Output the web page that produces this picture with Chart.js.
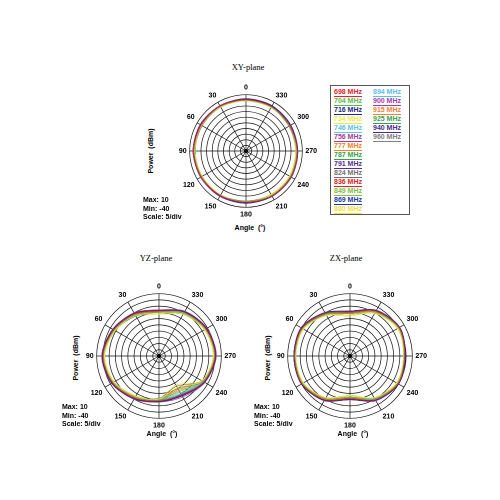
<!DOCTYPE html>
<html><head><meta charset="utf-8">
<script src="https://cdn.jsdelivr.net/npm/chart.js@4"></script>
<style>
body{margin:0;width:500px;height:500px;background:#fff;position:relative;font-family:Arial,"Liberation Sans",sans-serif;overflow:hidden}
canvas{position:absolute}
.t{position:absolute;font-family:"Liberation Serif",serif;font-size:8.5px;transform:translateX(-50%)}
.a{position:absolute;font-size:7px;font-weight:bold;transform:translateX(-50%);white-space:nowrap}
.p{position:absolute;font-size:7px;font-weight:bold;transform:translate(-50%,-50%) rotate(-90deg);white-space:nowrap}
.m{position:absolute;font-size:7px;font-weight:bold;line-height:8.5px;white-space:nowrap}
#leg{position:absolute;left:330px;top:85px;width:78px;height:128px;border:1px solid #555}
.li{position:absolute;font-size:7px;font-weight:bold;line-height:6.5px;border-bottom:1px solid;white-space:nowrap}
</style></head><body>
<div class="t" style="left:248px;top:62px">XY-plane</div>
<div class="t" style="left:156px;top:253px">YZ-plane</div>
<div class="t" style="left:346px;top:253px">ZX-plane</div>
<canvas id="c0"></canvas><canvas id="c1"></canvas><canvas id="c2"></canvas>
<div class="p" style="left:150px;top:151px">Power &nbsp;(dBm)</div>
<div class="p" style="left:75px;top:358px">Power &nbsp;(dBm)</div>
<div class="p" style="left:267px;top:358px">Power &nbsp;(dBm)</div>
<div class="a" style="left:250px;top:224px">Angle &nbsp;(°)</div>
<div class="a" style="left:162px;top:430px">Angle &nbsp;(°)</div>
<div class="a" style="left:353px;top:430px">Angle &nbsp;(°)</div>
<div class="m" style="left:143px;top:196px">Max: 10<br>Min: -40<br>Scale: 5/div</div>
<div class="m" style="left:62px;top:403px">Max: 10<br>Min: -40<br>Scale: 5/div</div>
<div class="m" style="left:254px;top:403px">Max: 10<br>Min: -40<br>Scale: 5/div</div>
<div id="leg"></div>
<script>
const freqs=["698","704","716","734","746","756","777","787","791","824","836","849","869","880","894","900","915","925","940","960"];
const colors=["#e8202a","#5cb848","#1b2a80","#f2e84a","#5cc4e0","#a03ca0","#f08020","#3aa048","#5a2c90","#707070","#e02020","#80c040","#1a3a9a","#f0e040","#60c0e0","#a040b0","#f08030","#40a050","#4a2a8a","#808080"];
const angleLabels=["0","30","60","90","120","150","180","210","240","270","300","330"];
// values in dBm at angles 0,30,...,330
const xy=[
[5.5,6,6,6.5,6,5.5,5.5,6,6,5.5,5,5.5],[5,5.5,6,6,5.5,5.5,5,5.5,5.5,5,4.5,5],[6,6,6.5,6.5,6,6,6,6,5.5,5.5,5.5,6],
[4.5,5,5.5,5.5,5,5,5,5,5,4.5,4.5,4.5],[5.5,6,6,6,5.5,6,5.5,5.5,5.5,5,5,5.5],[6,6.5,7,7,6.5,6.5,6,6,6,5.5,5.5,6],
[5,5.5,5.5,6,5.5,5.5,5.5,5.5,5.5,5,4.5,5],[5.5,5.5,6,6,6,6,5.5,5.5,6,5.5,5,5.5],[6.5,6.5,7,7,6.5,6.5,6.5,6.5,6.5,6,6,6.5],
[4.5,5,5,5.5,5,5,4.5,5,5,4.5,4,4.5],[6,6,6.5,7,6.5,6.5,6.5,6.5,6.5,6,5.5,6],[5,5.5,5.5,6,5.5,5.5,5,5,5,4.5,4.5,5],
[5.5,6,6,6.5,6,6,5.5,6,6,5.5,5,5.5],[4.5,5,5,5,5,5,4.5,4.5,4.5,4,4,4.5],[5,5.5,5.5,5.5,5.5,5.5,5,5,5.5,5,4.5,5],
[6,6,6.5,6.5,6,6,6,6,6,5.5,5.5,6],[5.5,5.5,6,6,6,5.5,5.5,5.5,5.5,5,5,5.5],[5,5.5,5.5,6,5.5,5.5,5,5.5,5.5,5,4.5,5],
[6,6.5,6.5,7,6.5,6.5,6,6.5,6.5,6,5.5,6],[4.5,5,5,5.5,5,5,4.5,4.5,5,4.5,4,4.5]];
const yz=[
[-4,-1,2,5,3,-1,-4,-4,1.5,5,3.5,0.5],[-5,-2,1.5,4.5,2.5,-2,-4.5,-9,0.5,4.5,3,-0.5],[-3.5,-0.5,2.5,5.5,3.5,-0.5,-3.5,-3,2,5.5,4,1],
[-5.5,-2.5,1,4,2,-2.5,-5.5,-11,0,4,2.5,-1],[-4,-1,1.5,4.5,3,-1,-4,-5,1,4.5,3.5,0],[-3,0,3,6,4,0,-3,-2,2.5,6,4.5,1.5],
[-4.5,-1.5,2,5,2.5,-1.5,-4.5,-10,1,5,3,0],[-5,-1,1.5,4.5,3,-1,-4.5,-4.5,1,4.5,3.5,0],[-3.5,-0.5,2.5,5.5,3.5,0,-3.5,-3.5,2,5.5,4,1],
[-5.5,-3,1,4,2,-2.5,-6,-12,0,4,2.5,-1],[-3,0,2.5,5.5,3.5,-0.5,-3.5,-3,2,5.5,4.5,1],[-5,-2,1.5,4.5,2.5,-2,-5,-7,0.5,4.5,3,-0.5],
[-4,-1,2,5,3,-1,-4,-4,1.5,5,3.5,0.5],[-6.5,-3,0.5,3.5,1.5,-3,-6,-13,-0.5,3.5,2,-1.5],[-4.5,-1.5,1.5,4.5,2.5,-1.5,-4.5,-6,1,4.5,3,0],
[-3.5,-0.5,2.5,5.5,3.5,-0.5,-3.5,-3,2,5.5,4,1],[-4,-1,2,5,3,-1,-4,-8,1.5,5,3.5,0.5],[-5,-2,1.5,4.5,2.5,-2,-5,-5,0.5,4.5,3,-0.5],
[-3.5,-0.5,2.5,5.5,3.5,-0.5,-3.5,-3.5,2,5.5,4,1],[-5.5,-2,1,4,2,-2,-5.5,-10,0.5,4,2.5,-1]];
const zx=[
[-5,-0.5,4.5,4.5,4.5,0.5,-6,0.5,4.5,4,5.5,1.5],[-6,-1.5,4,4,4,-0.5,-7,-0.5,4,3.5,5,0.5],[-4,0,5,5,5,1,-5,1,5,4.5,6,2],
[-7,-2,3.5,3.5,3.5,-1,-8,-1,3.5,3,4.5,0],[-5,-0.5,4.5,4.5,4.5,0.5,-6,0,4.5,4,5,1.5],[-4,0.5,5.5,5,5,1.5,-5,1.5,5,4.5,6,2.5],
[-5.5,-0.5,4.5,4.5,4,0,-6.5,0.5,4.5,4,5.5,1],[-6,-1,4,4.5,4.5,0,-6,0,4,4,5,1],[-4,0,5,5,5,1,-5,1,5,4.5,6,2],
[-7,-2,3.5,3.5,3.5,-1,-8,-1,3.5,3,4.5,0],[-4.5,0,4.5,5,4.5,1,-5.5,1,4.5,4.5,5.5,2],[-6,-1.5,4,4,4,-0.5,-7,-0.5,4,3.5,5,0.5],
[-5,-0.5,4.5,4.5,4.5,0.5,-6,0.5,4.5,4,5.5,1.5],[-8,-2.5,3,3.5,3,-1.5,-8.5,-1.5,3,3,4,-0.5],[-5.5,-0.5,4.5,4.5,4.5,0,-6,0,4,4,5,1],
[-4,0,5,5,5,1,-5,1,5,4.5,6,2],[-5,-0.5,4.5,4.5,4.5,0.5,-6,0.5,4.5,4,5.5,1.5],[-6,-1.5,4,4,4,-0.5,-7,-0.5,4,3.5,5,0.5],
[-4,0,5,5,5,1,-5,1,5,4.5,6,2],[-6,-1.5,4,4,4,-0.5,-7,-0.5,4,3.5,5,0.5]];
const planes=[xy,yz,zx];
const pos=[[248,151,141],[161,357,154],[352,357,154]];
const order=[0,11,10,9,8,7,6,5,4,3,2,1];
Chart.register({id:'dot',afterDraw(c){const s=c.scales.r,x=c.ctx;x.save();x.fillStyle='#000';x.beginPath();x.arc(s.xCenter,s.yCenter,2,0,7);x.fill();x.restore();}});
planes.forEach((pl,k)=>{
  const [cx,cy,size]=pos[k];
  const cv=document.getElementById('c'+k);
  cv.style.left=(cx-size/2)+'px';cv.style.top=(cy-size/2)+'px';cv.width=size;cv.height=size;cv.style.width=size+'px';cv.style.height=size+'px';
  new Chart(cv,{type:'radar',
    data:{labels:order.map(i=>angleLabels[i]),
      datasets:pl.map((d,j)=>({label:freqs[j],data:order.map(i=>d[i]),borderColor:colors[j],borderWidth:0.7,pointRadius:0,fill:false,tension:0.3}))},
    options:{responsive:false,animation:false,devicePixelRatio:2,layout:{padding:0},
      plugins:{legend:{display:false},tooltip:{enabled:false}},
      scales:{r:{min:-40,max:10,ticks:{stepSize:5,display:false},
        grid:{circular:true,color:'#111',lineWidth:0.7},
        angleLines:{color:'#111',lineWidth:0.7},
        pointLabels:{font:{size:7,weight:'bold',family:'Arial'},color:'#000',padding:3}}}}});
});
const leg=document.getElementById('leg');
freqs.forEach((f,j)=>{const d=document.createElement('div');d.className='li';
  const col=j<14?0:1,row=j<14?j:j-14;
  d.style.left=(3+col*39)+'px';d.style.top=(3+row*9)+'px';d.style.color=colors[j];d.style.borderColor=colors[j];
  d.textContent=f+' MHz';leg.appendChild(d);});
</script>
</body></html>
